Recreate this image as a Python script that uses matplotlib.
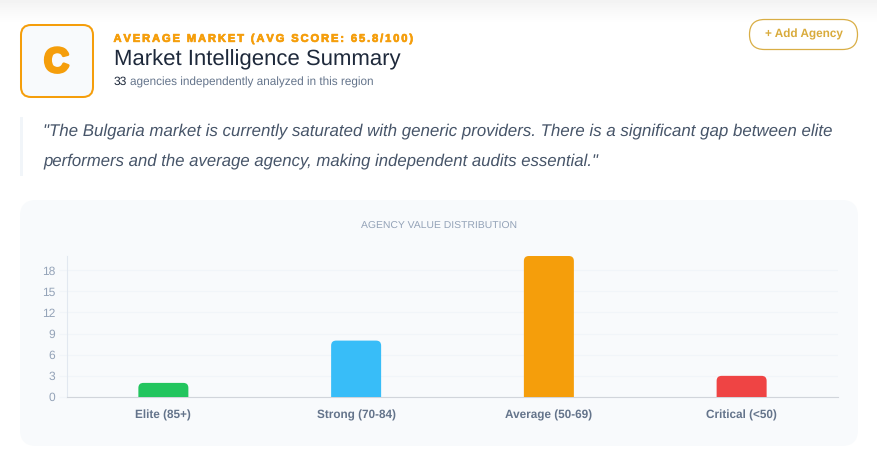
import matplotlib
matplotlib.use("Agg")
import matplotlib.pyplot as plt
import matplotlib.patheffects as pe
import numpy as np
from matplotlib.patches import FancyBboxPatch, Rectangle
from matplotlib.path import Path

plt.rcParams["font.family"] = ["Liberation Sans", "DejaVu Sans"]
plt.rcParams["text.hinting"] = "none"

categories = ["Elite (85+)", "Strong (70-84)", "Average (50-69)", "Critical (<50)"]
counts = [2, 8, 20, 3]
colors = ["#22c55e", "#38bdf8", "#f59e0b", "#ef4444"]
y_ticks = [0, 3, 6, 9, 12, 15, 18]

W, H = 877, 466
fig = plt.figure(figsize=(W / 100, H / 100), dpi=100, facecolor="white")

# page layer in pixel coords
page = fig.add_axes([0, 0, 1, 1])
page.set_xlim(0, W)
page.set_ylim(H, 0)
page.axis("off")

fade = np.linspace(0, 1, 24).reshape(-1, 1)
page.imshow(fade, extent=(0, W, 24, 0), cmap="gray", vmin=-20, vmax=1, aspect="auto", zorder=0)
page.set_xlim(0, W)
page.set_ylim(H, 0)


def box(x0, y0, x1, y1, r, **kw):
    p = FancyBboxPatch((x0, y0), x1 - x0, y1 - y0, boxstyle=f"round,pad=0,rounding_size={r}", **kw)
    page.add_patch(p)


def spaced(s):
    return "\u200a\u200a".join(s)


box(21, 25, 93, 97, 10, fc="#f8fafc", ec="#f59e0b", lw=1.45)
page.text(56.5, 63, "C", fontsize=25, fontweight="bold", color="#f59e0b", ha="center", va="center",
          path_effects=[pe.withStroke(linewidth=2.2, foreground="#f59e0b")])

page.text(113.5, 39, spaced("AVERAGE MARKET (AVG SCORE: 65.8/100)"), fontsize=8.05, fontweight="bold",
          color="#f59e0b", va="center", path_effects=[pe.withStroke(linewidth=0.5, foreground="#f59e0b")])
page.text(113.5, 59.5, "Market Intelligence Summary", fontsize=15.9, color="#1e293b", va="center")
page.text(113.5, 82, "33", fontsize=8.64, color="#1e293b", va="center")
page.text(130, 82, "agencies independently analyzed in this region", fontsize=8.5, color="#64748b", va="center")

box(749.5, 19.5, 857.5, 49.5, 15, fc="white", ec="#d9ae45", lw=0.9)
page.text(803.5, 34.5, "+ Add Agency", fontsize=8.5, fontweight="bold", color="#d9ab3c", ha="center", va="center")

page.add_patch(Rectangle((20, 117), 3, 59, fc="#f1f5f9", ec="none"))
page.text(43, 131.5, "\"The Bulgaria market is currently saturated with generic providers. There is a significant gap between elite",
          fontsize=12.15, style="italic", color="#475569", va="center")
page.text(43, 161.5, "performers and the average agency, making independent audits essential.\"",
          fontsize=12.1, style="italic", color="#475569", va="center")

box(20, 200, 858, 446, 16, fc="#f8fafc", ec="none")
page.text(439, 226, "AGENCY VALUE DISTRIBUTION", fontsize=7.5, color="#94a3b8", ha="center", va="center")

# chart
left, right, top, bottom = 67, 838, 256, 397
ax = fig.add_axes([left / W, 1 - bottom / H, (right - left) / W, (bottom - top) / H])
ax.patch.set_alpha(0)
x = np.arange(len(categories))
bars = ax.bar(x, counts, width=50 / ((right - left) / 4), color=colors, zorder=3)
ax.set_xlim(-0.5, 3.5)
ax.set_ylim(0, 20)

# rounded top corners, 5px radius, in the bar's unit box
px_per_unit = (bottom - top) / 20
for b, v in zip(bars, counts):
    rx = 5 / 50
    ry = 5 / (v * px_per_unit)
    verts = [(0, 0), (1, 0), (1, 1 - ry), (1, 1), (1 - rx, 1), (rx, 1), (0, 1), (0, 1 - ry), (0, 0)]
    codes = [Path.MOVETO, Path.LINETO, Path.LINETO, Path.CURVE3, Path.CURVE3, Path.LINETO,
             Path.CURVE3, Path.CURVE3, Path.CLOSEPOLY]
    rounded = Path(verts, codes)
    b.get_path = lambda p=rounded: p

ax.set_yticks(y_ticks)
ax.set_xticks(x, categories)
ax.grid(axis="y", color="#f1f5f9", lw=0.8, zorder=0)
ax.tick_params(axis="y", length=6, width=0.8, color="#f1f5f9", pad=2.5, labelsize=8.64, labelcolor="#94a3b8")
ax.tick_params(axis="x", length=0, pad=9, labelsize=8.5, labelcolor="#64748b")
for lab in ax.get_xticklabels():
    lab.set_fontweight("bold")
for s in ["top", "right"]:
    ax.spines[s].set_visible(False)
ax.spines["left"].set_color("#e2e8f0")
ax.spines["bottom"].set_color("#d1d5db")
ax.spines["left"].set_linewidth(0.8)
ax.spines["bottom"].set_linewidth(0.8)

fig.savefig("out.png", dpi=100)
